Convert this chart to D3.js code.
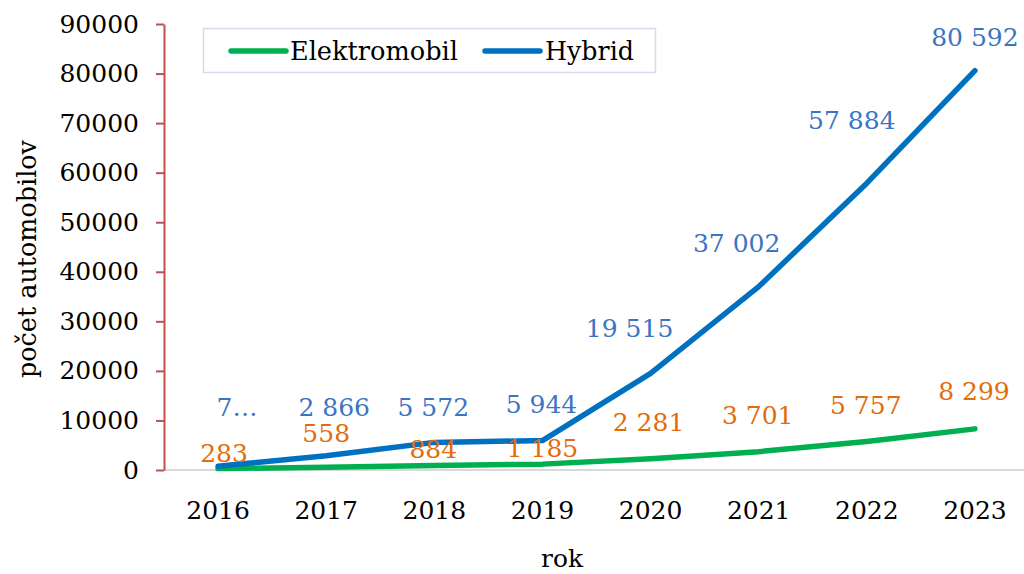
<!DOCTYPE html>
<html>
<head>
<meta charset="utf-8">
<script src="https://cdn.jsdelivr.net/npm/d3@7"></script>
<style>
  body { margin: 0; background: #fff; overflow: hidden; }
  svg { display: block; }
</style>
</head>
<body>
<div id="chart"></div>
<script>
// Data
const years = ["2016", "2017", "2018", "2019", "2020", "2021", "2022", "2023"];
const elektromobil = [283, 558, 884, 1185, 2281, 3701, 5757, 8299];
const hybrid = [750, 2866, 5572, 5944, 19515, 37002, 57884, 80592];
const yTicks = [0, 10000, 20000, 30000, 40000, 50000, 60000, 70000, 80000, 90000];

// Label placement (offset from the point, in px), as moved by hand in the original
const hybridLabelOffset = [[19, -59], [8, -49], [-1, -35], [-1, -37], [-21, -45], [-22, -44], [-15, -63], [0, -34]];
const elektroLabelOffset = [[6, -16], [0, -34], [-1, -17], [0, -16], [-2, -37], [-1, -37], [-1, -36], [-1, -38]];

const serif = "'DejaVu Serif', serif";
const width = 1024, height = 574;
const margin = { top: 24, right: -5, bottom: 104, left: 164 };
const innerWidth = width - margin.left - margin.right;
const innerHeight = height - margin.top - margin.bottom;

// Shrink a text's font size until it is as wide as in the original
const fitWidth = (sel, target) => {
  const node = sel.node();
  const size = parseFloat(sel.style("font-size"));
  const w = node.getComputedTextLength();
  sel.style("font-size", `${size * target / w}px`);
};

const svg = d3.select("#chart")
  .append("svg")
    .attr("width", width)
    .attr("height", height)
    .style("font-family", serif);

const innerChart = svg.append("g")
  .attr("transform", `translate(${margin.left}, ${margin.top})`);

// Scales
const xScale = d3.scaleBand()
  .domain(years)
  .range([0, innerWidth]);

const yScale = d3.scaleLinear()
  .domain([0, 90000])
  .range([innerHeight, 0]);

const xPos = d => xScale(d) + xScale.bandwidth() / 2;

// Baseline
innerChart.append("line")
  .attr("x1", 0).attr("x2", innerWidth)
  .attr("y1", yScale(0)).attr("y2", yScale(0))
  .attr("stroke", "#d9d9d9")
  .attr("stroke-width", 2);

// Left axis
const leftAxis = d3.axisLeft(yScale)
  .tickValues(yTicks)
  .tickFormat(d3.format("d"))
  .tickSize(8)
  .tickSizeOuter(0)
  .tickPadding(17);
const yAxisG = innerChart.append("g")
  .attr("class", "axis-y")
  .call(leftAxis);
yAxisG.select(".domain").attr("stroke", "#c0504d").attr("stroke-width", 2);
yAxisG.selectAll(".tick line").attr("stroke", "#c0504d").attr("stroke-width", 2);
yAxisG.selectAll(".tick text")
  .attr("fill", "#000")
  .style("font", `25px ${serif}`);

// Bottom axis (labels only)
const bottomAxis = d3.axisBottom(xScale).tickSize(0).tickPadding(31);
const xAxisG = innerChart.append("g")
  .attr("transform", `translate(0, ${innerHeight})`)
  .call(bottomAxis);
xAxisG.select(".domain").remove();
xAxisG.selectAll(".tick text")
  .attr("fill", "#000")
  .style("font", `25px ${serif}`);

// Axis titles
svg.append("text")
  .attr("x", 562)
  .attr("y", 567)
  .attr("text-anchor", "middle")
  .style("font", `25px ${serif}`)
  .text("rok")
  .call(fitWidth, 42);

svg.append("text")
  .attr("transform", "translate(36, 259) rotate(-90)")
  .attr("text-anchor", "middle")
  .style("font", `25px ${serif}`)
  .text("počet automobilov")
  .call(fitWidth, 238);

// Lines
const series = [
  { id: "elektromobil", label: "Elektromobil", values: elektromobil, color: "#00b050", legendWidth: 168 },
  { id: "hybrid", label: "Hybrid", values: hybrid, color: "#0070c0", legendWidth: 89 }
];

series.forEach(s => {
  const lineGenerator = d3.line()
    .x((d, i) => xPos(years[i]))
    .y(d => yScale(d));
  innerChart.append("path")
    .attr("d", lineGenerator(s.values))
    .attr("fill", "none")
    .attr("stroke", s.color)
    .attr("stroke-width", 5.5)
    .attr("stroke-linecap", "round")
    .attr("stroke-linejoin", "round");
});

// Data labels
const fmt = v => d3.format(",")(v).replace(/,/g, " ");

innerChart.selectAll(".label-elektro")
  .data(elektromobil)
  .join("text")
    .attr("class", "label-elektro")
    .attr("x", (d, i) => xPos(years[i]) + elektroLabelOffset[i][0])
    .attr("y", (d, i) => yScale(d) + elektroLabelOffset[i][1] + 9)
    .attr("text-anchor", "middle")
    .attr("fill", "#e36c0a")
    .style("font", `25px ${serif}`)
    .text(d => fmt(d));

innerChart.selectAll(".label-hybrid")
  .data(hybrid)
  .join("text")
    .attr("class", "label-hybrid")
    .attr("x", (d, i) => xPos(years[i]) + hybridLabelOffset[i][0])
    .attr("y", (d, i) => yScale(d) + hybridLabelOffset[i][1] + 9)
    .attr("text-anchor", "middle")
    .attr("fill", "#3a75c4")
    .style("font", `25px ${serif}`)
    // the first label is cut short in the original
    .text((d, i) => i === 0 ? fmt(d)[0] + "…" : fmt(d));

// Legend
const legend = svg.append("g");
legend.append("rect")
  .attr("x", 203.5).attr("y", 28.5)
  .attr("width", 452).attr("height", 44)
  .attr("fill", "#fff")
  .attr("stroke", "#d3dbe8")
  .attr("stroke-width", 1.5);

const legendItems = [
  { x: 231, textX: 290 },
  { x: 485, textX: 545 }
];
series.forEach((s, i) => {
  legend.append("line")
    .attr("x1", legendItems[i].x).attr("x2", legendItems[i].x + 55)
    .attr("y1", 51).attr("y2", 51)
    .attr("stroke", s.color)
    .attr("stroke-width", 5.5)
    .attr("stroke-linecap", "round");
  legend.append("text")
    .attr("x", legendItems[i].textX)
    .attr("y", 60)
    .style("font", `25px ${serif}`)
    .attr("fill", "#000")
    .text(s.label)
    .call(fitWidth, s.legendWidth);
});
</script>
</body>
</html>
